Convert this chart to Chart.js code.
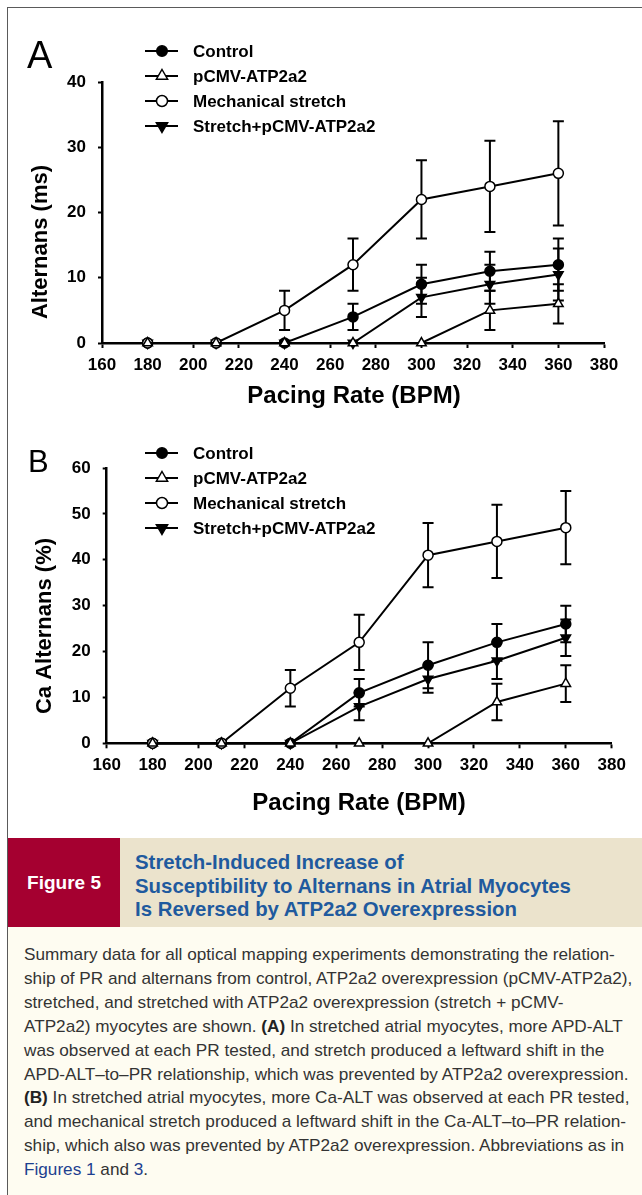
<!DOCTYPE html>
<html>
<head>
<meta charset="utf-8">
<script src="https://cdn.jsdelivr.net/npm/chart.js@4.4.1/dist/chart.umd.min.js"></script>
<style>
html,body{margin:0;padding:0;background:#fff;}
#page{position:relative;width:642px;height:1195px;overflow:hidden;font-family:"Liberation Sans",Arial,sans-serif;}
#frame{position:absolute;left:7px;top:7px;right:-2px;bottom:-2px;border-left:1px solid #5a5a5a;border-top:1px solid #5a5a5a;}
canvas{position:absolute;left:0;}
#cA{top:0;}
#cB{top:420px;}
#capHead{position:absolute;left:8px;top:838px;width:634px;height:89px;background:#ebe3cc;}
#figTag{position:absolute;left:0;top:0;width:112px;height:89px;background:#a50030;color:#fff;font-weight:bold;font-size:19px;line-height:89px;text-align:center;}
#capTitle{position:absolute;left:127px;top:13px;color:#1f5a9e;font-weight:bold;font-size:18px;line-height:23.5px;white-space:nowrap;}
#capBody{position:absolute;left:8px;top:927px;width:634px;height:268px;background:#fefcf1;}
#bodyText{position:absolute;left:16px;top:16px;color:#333;font-size:15px;line-height:23.9px;white-space:nowrap;}
#bodyText b{color:#222;}
.lnk{color:#1d3f8f;}
</style>
</head>
<body>
<div id="page">
  <div id="frame"></div>
  <canvas id="cA" width="642" height="420"></canvas>
  <canvas id="cB" width="642" height="420"></canvas>
  <div id="capHead">
    <div id="figTag">Figure 5</div>
    <div id="capTitle"><span>Stretch-Induced Increase of</span><br><span id="t2">Susceptibility to Alternans in Atrial Myocytes</span><br><span>Is Reversed by ATP2a2 Overexpression</span></div>
  </div>
  <div id="capBody">
    <div id="bodyText"><span id="l1">Summary data for all optical mapping experiments demonstrating the relation-</span><br>ship of PR and alternans from control, ATP2a2 overexpression (pCMV-ATP2a2),<br>stretched, and stretched with ATP2a2 overexpression (stretch + pCMV-<br>ATP2a2) myocytes are shown. <b>(A)</b> In stretched atrial myocytes, more APD-ALT<br>was observed at each PR tested, and stretch produced a leftward shift in the<br>APD-ALT–to–PR relationship, which was prevented by ATP2a2 overexpression.<br><b>(B)</b> In stretched atrial myocytes, more Ca-ALT was observed at each PR tested,<br>and mechanical stretch produced a leftward shift in the Ca-ALT–to–PR relation-<br>ship, which also was prevented by ATP2a2 overexpression. Abbreviations as in<br><span class="lnk">Figures 1</span> and <span class="lnk">3</span>.</div>
  </div>
</div>
<script>
// ---------- DATA ----------
const paceRate = [180, 210, 240, 270, 300, 330, 360];
const xTickLabels = [160, 180, 200, 220, 240, 260, 280, 300, 320, 340, 360, 380];
const yTickLabelsA = [0, 10, 20, 30, 40];
const yTickLabelsB = [0, 10, 20, 30, 40, 50, 60];
const seriesNames = ['Control', 'pCMV-ATP2a2', 'Mechanical stretch', 'Stretch+pCMV-ATP2a2'];

// Panel A: Alternans (ms)
const controlA        = [0, 0, 0, 4, 9, 11, 12];
const controlAErr     = [0, 0, 0, 2, 3, 3, 4];
const pcmvA           = [0, 0, 0, 0, 0, 5, 6];
const pcmvAErr        = [0, 0, 0, 0, 0, 3, 3];
const mechA           = [0, 0, 5, 12, 22, 24, 26];
const mechAErr        = [0, 0, 3, 4, 6, 7, 8];
const stretchPcmvA    = [0, 0, 0, 0, 7, 9, 10.5];
const stretchPcmvAErr = [0, 0, 0, 0, 3, 3, 4];

// Panel B: Ca Alternans (%)
const controlB        = [0, 0, 0, 11, 17, 22, 26];
const controlBErr     = [0, 0, 0, 3, 5, 4, 4];
const pcmvB           = [0, 0, 0, 0, 0, 9, 13];
const pcmvBErr        = [0, 0, 0, 0, 0, 4, 4];
const mechB           = [0, 0, 12, 22, 41, 44, 47];
const mechBErr        = [0, 0, 4, 6, 7, 8, 8];
const stretchPcmvB    = [0, 0, 0, 8, 14, 18, 23];
const stretchPcmvBErr = [0, 0, 0, 3, 3, 4, 4];

// ---------- RENDERING ----------
const FONT = '"Liberation Sans", Arial, sans-serif';
Chart.defaults.font.family = FONT;
Chart.defaults.color = '#000';

const markerDefs = [
  {shape: 'circle', fill: '#000', r: 5, lr: 5.3},
  {shape: 'triangle', fill: '#fff', r: 5.5, lr: 6.5},
  {shape: 'circle', fill: '#fff', r: 5, lr: 5.5},
  {shape: 'triangleDown', fill: '#000', r: 5.5, lr: 6.5}
];

function drawMarker(ctx, kind, x, y, r, fill) {
  ctx.beginPath();
  if (kind === 'circle') {
    ctx.arc(x, y, r, 0, Math.PI * 2);
  } else {
    const s = kind === 'triangle' ? 1 : -1;
    ctx.moveTo(x, y - s * r);
    ctx.lineTo(x + 0.866 * r, y + s * 0.5 * r);
    ctx.lineTo(x - 0.866 * r, y + s * 0.5 * r);
    ctx.closePath();
  }
  ctx.fillStyle = fill;
  ctx.fill();
  ctx.lineWidth = 1.5;
  ctx.strokeStyle = '#000';
  ctx.stroke();
}

function makeChart(id, p) {
  const values = [p.control, p.pcmv, p.mech, p.comb];
  const errs = [p.controlErr, p.pcmvErr, p.mechErr, p.combErr];
  const orders = [4, 1, 2, 3];
  const datasets = values.map((vals, k) => {
    const m = markerDefs[k];
    return {
      label: seriesNames[k],
      data: paceRate.map((x, i) => ({x: x, y: vals[i]})),
      errors: errs[k],
      borderColor: '#000',
      borderWidth: 2,
      tension: 0,
      clip: false,
      order: orders[k],
      pointStyle: m.shape === 'circle' ? 'circle' : 'triangle',
      pointRotation: m.shape === 'triangleDown' ? 180 : 0,
      pointRadius: m.r,
      pointBackgroundColor: m.fill,
      pointBorderColor: '#000',
      pointBorderWidth: 1.5,
      pointHoverRadius: m.r
    };
  });

  const errorBars = {
    id: 'errorBars',
    beforeDatasetsDraw(chart) {
      const {ctx, scales: {x, y}} = chart;
      ctx.save();
      ctx.strokeStyle = '#000';
      ctx.lineWidth = 2;
      chart.data.datasets.forEach(ds => {
        ds.data.forEach((pt, i) => {
          const e = ds.errors[i];
          if (!e) return;
          const px = x.getPixelForValue(pt.x);
          const top = y.getPixelForValue(pt.y + e);
          const bot = y.getPixelForValue(pt.y - e);
          ctx.beginPath();
          ctx.moveTo(px, top); ctx.lineTo(px, bot);
          ctx.moveTo(px - 5.5, top); ctx.lineTo(px + 5.5, top);
          ctx.moveTo(px - 5.5, bot); ctx.lineTo(px + 5.5, bot);
          ctx.stroke();
        });
      });
      ctx.restore();
    },
    afterDraw(chart) {
      const ctx = chart.ctx;
      ctx.save();
      // legend
      p.legendRows.forEach((ly, k) => {
        ctx.strokeStyle = '#000';
        ctx.lineWidth = 2;
        ctx.beginPath();
        ctx.moveTo(145, ly); ctx.lineTo(178, ly);
        ctx.stroke();
        const m = markerDefs[k];
        drawMarker(ctx, m.shape, 162, ly, m.lr, m.fill);
        ctx.fillStyle = '#000';
        ctx.font = 'bold 17px ' + FONT;
        ctx.textAlign = 'left';
        ctx.textBaseline = 'middle';
        ctx.fillText(seriesNames[k], 193, ly + 1);
      });
      // panel letter
      ctx.fillStyle = '#000';
      ctx.font = p.letterSize + 'px ' + FONT;
      ctx.textAlign = 'left';
      ctx.textBaseline = 'alphabetic';
      ctx.fillText(p.letter, p.letterX, p.letterY);
      // x title
      ctx.font = 'bold 24px ' + FONT;
      ctx.textAlign = 'center';
      ctx.fillText('Pacing Rate (BPM)', p.xTitleX, p.xTitleY);
      // y title
      ctx.translate(p.yTitleX, p.yTitleY);
      ctx.rotate(-Math.PI / 2);
      ctx.font = 'bold 22px ' + FONT;
      ctx.fillText(p.yTitle, 0, 0);
      ctx.restore();
    }
  };

  const tickFont = {family: FONT, size: 17, weight: 'bold'};
  return new Chart(document.getElementById(id), {
    type: 'line',
    data: {datasets: datasets},
    options: {
      responsive: false,
      animation: false,
      devicePixelRatio: 1,
      layout: {padding: {left: 0, right: p.padRight, top: p.padTop, bottom: 0}},
      plugins: {legend: {display: false}, tooltip: {enabled: false}},
      scales: {
        x: {
          type: 'linear', min: 160, max: 380,
          afterBuildTicks: s => { s.ticks = xTickLabels.map(v => ({value: v})); },
          afterFit: s => { s.height = p.xAxisH; },
          ticks: {font: tickFont, color: '#000', padding: 7, maxRotation: 0, autoSkip: false},
          grid: {drawOnChartArea: false, drawTicks: true, tickLength: 5, tickColor: '#000', tickWidth: 2},
          border: {color: '#000', width: 2.5}
        },
        y: {
          type: 'linear', min: 0, max: p.yMax,
          afterBuildTicks: s => { s.ticks = p.yTicks.map(v => ({value: v})); },
          afterFit: s => { s.width = p.yAxisW; },
          ticks: {font: tickFont, color: '#000', padding: 12},
          grid: {drawOnChartArea: false, drawTicks: true, tickLength: 4, tickColor: '#000', tickWidth: 2},
          border: {color: '#000', width: 2.5}
        }
      }
    },
    plugins: [errorBars]
  });
}

makeChart('cA', {
  control: controlA, controlErr: controlAErr, pcmv: pcmvA, pcmvErr: pcmvAErr,
  mech: mechA, mechErr: mechAErr, comb: stretchPcmvA, combErr: stretchPcmvAErr,
  yMax: 40, yTicks: yTickLabelsA,
  padTop: 82, padRight: 38, xAxisH: 77, yAxisW: 102,
  legendRows: [51, 76, 101, 126],
  letter: 'A', letterSize: 38, letterX: 27, letterY: 68,
  xTitleX: 354, xTitleY: 403,
  yTitle: 'Alternans (ms)', yTitleX: 47, yTitleY: 242
});

makeChart('cB', {
  control: controlB, controlErr: controlBErr, pcmv: pcmvB, pcmvErr: pcmvBErr,
  mech: mechB, mechErr: mechBErr, comb: stretchPcmvB, combErr: stretchPcmvBErr,
  yMax: 60, yTicks: yTickLabelsB,
  padTop: 48, padRight: 30.3, xAxisH: 96.7, yAxisW: 106.7,
  legendRows: [33, 58, 83, 108],
  letter: 'B', letterSize: 31, letterX: 28, letterY: 52,
  xTitleX: 359, xTitleY: 390,
  yTitle: 'Ca Alternans (%)', yTitleX: 51, yTitleY: 206
});

// fit caption text widths to the reference
function fitText() {
  const bt = document.getElementById('bodyText');
  const ct = document.getElementById('capTitle');
  bt.style.fontSize = '15px';
  ct.style.fontSize = '18px';
  const w1 = document.getElementById('l1').getBoundingClientRect().width;
  const w2 = document.getElementById('t2').getBoundingClientRect().width;
  bt.style.fontSize = (15 * 591 / w1).toFixed(2) + 'px';
  ct.style.fontSize = (18 * 436 / w2).toFixed(2) + 'px';
}
fitText();
if (document.fonts && document.fonts.ready) document.fonts.ready.then(fitText);
</script>
</body>
</html>
